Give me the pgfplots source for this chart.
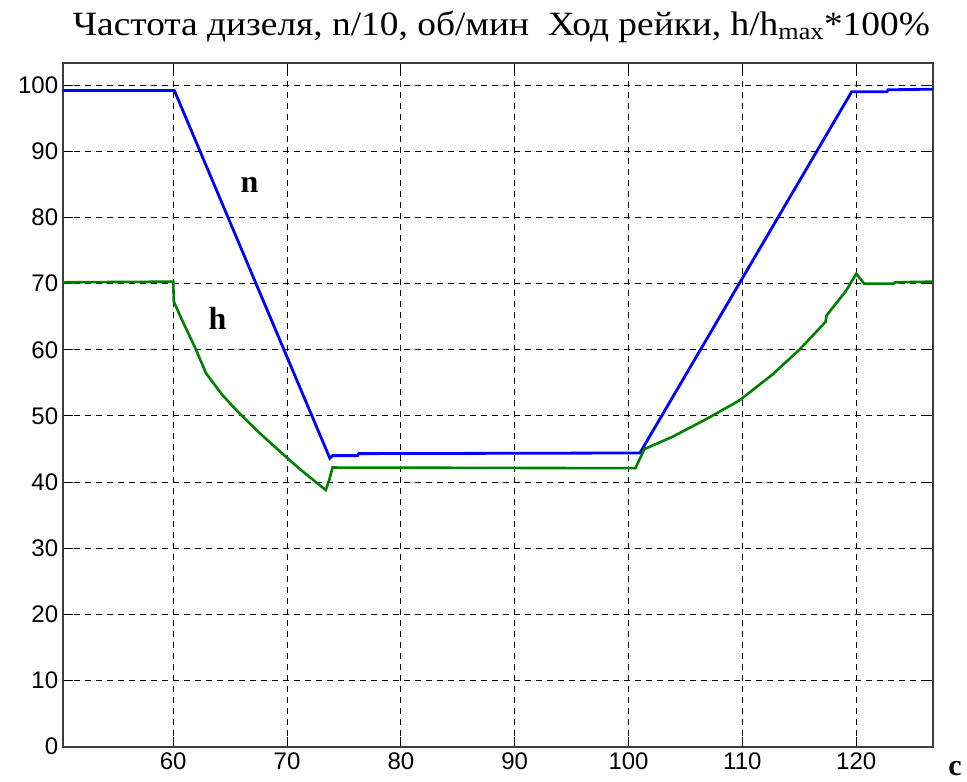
\documentclass[border=0pt]{standalone}
\usepackage{fontspec}
\setmainfont{Liberation Serif}
\newfontfamily\sansf{Liberation Sans}
\usepackage{graphicx}
\usepackage{pgfplots}
\pgfplotsset{compat=1.18}
\definecolor{mblue}{RGB}{0,0,255}
\definecolor{mgreen}{RGB}{0,128,0}
\definecolor{axgray}{RGB}{60,60,60}
\begin{document}
\begin{tikzpicture}
\begin{axis}[
  at={(0,0)}, anchor=south west,
  scale only axis, width=870pt, height=684pt,
  xmin=50.29, xmax=126.72, ymin=0, ymax=103.4,
  xtick={60,70,...,120}, ytick={0,10,...,100},
  tick align=inside, major tick length=10pt,
  every tick/.style={black, line width=1pt},
  axis line style={axgray, line width=1.8pt},
  grid=major,
  major grid style={black, line width=1.1pt, dash pattern=on 6pt off 5pt},
  tick label style={font=\fontsize{24}{28}\sansf},
  /pgf/number format/assume math mode=true,
  xticklabel style={yshift=-3pt},
  yticklabel style={xshift=-1pt},
  clip=false,
]
\addplot[mblue, line width=2.8pt] coordinates {
(50.29,99.2) (60.1,99.2) (73.76,43.6) (74.0,44.0) (76.2,44.0) (76.3,44.3) (101.0,44.4) (119.6,99.0) (122.7,99.0) (122.8,99.3) (126.72,99.4)
};
\addplot[mgreen, line width=2.6pt] coordinates {
(50.29,70.2) (60.0,70.3) (60.05,67.3) (60.8,64.4) (61.9,60.4) (62.9,56.4) (64.3,53.2) (65.7,50.6) (67.6,47.4) (69.4,44.6) (71.1,42.0) (72.6,39.9) (73.4,38.8) (73.7,40.3) (74.0,42.2) (100.6,42.1) (101.4,45.0) (103.8,46.8) (106.7,49.4) (109.7,52.3) (112.6,56.2) (115.0,60.0) (117.3,64.2) (117.4,65.2) (119.1,68.9) (120.0,71.5) (120.7,70.0) (123.3,70.0) (123.4,70.2) (126.72,70.3)
};
\node[font=\fontsize{32}{36}\selectfont\bfseries] at (axis cs:66.7,84.9) {n};
\node[font=\fontsize{32}{36}\selectfont\bfseries] at (axis cs:63.9,64.8) {h};
\node[font=\fontsize{30}{34}\selectfont\bfseries, anchor=base] at ([xshift=22.3pt,yshift=-28.3pt]rel axis cs:1,0) {с};
\node[anchor=base west, inner sep=0pt, font=\fontsize{34}{40}\selectfont] at ([xshift=10pt,yshift=27pt]rel axis cs:0,1)
  {\resizebox{857pt}{\height}{Частота дизеля, n/10, об/мин\ \ Ход рейки, h/h\textsubscript{max}*100\%}};
\end{axis}
\pgfresetboundingbox
\useasboundingbox (-62.7pt,-35.3pt) rectangle (904.3pt,746.7pt);
\end{tikzpicture}
\end{document}
